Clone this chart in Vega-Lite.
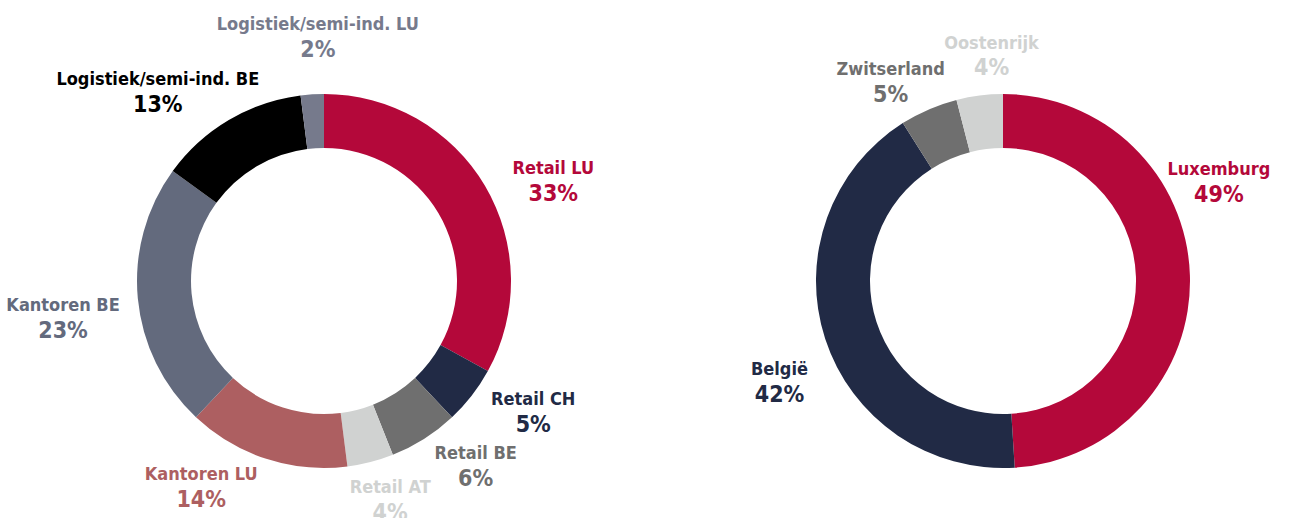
{
  "$schema": "https://vega.github.io/schema/vega-lite/v6.json",
  "padding": 0,
  "spacing": 63,
  "background": "white",
  "config": {
    "view": {"stroke": null},
    "text": {"font": "DejaVu Sans Condensed, DejaVu Sans, sans-serif", "fontWeight": "bold", "baseline": "middle", "align": "center"}
  },
  "data": {
    "values": [
      {"grafiek": "Sector", "nr": 1, "label": "Retail LU", "waarde": 0.33},
      {"grafiek": "Sector", "nr": 2, "label": "Retail CH", "waarde": 0.05},
      {"grafiek": "Sector", "nr": 3, "label": "Retail BE", "waarde": 0.06},
      {"grafiek": "Sector", "nr": 4, "label": "Retail AT", "waarde": 0.04},
      {"grafiek": "Sector", "nr": 5, "label": "Kantoren LU", "waarde": 0.14},
      {"grafiek": "Sector", "nr": 6, "label": "Kantoren BE", "waarde": 0.23},
      {"grafiek": "Sector", "nr": 7, "label": "Logistiek/semi-ind. BE", "waarde": 0.13},
      {"grafiek": "Sector", "nr": 8, "label": "Logistiek/semi-ind. LU", "waarde": 0.02},
      {"grafiek": "Land", "nr": 1, "label": "Luxemburg", "waarde": 0.49},
      {"grafiek": "Land", "nr": 2, "label": "België", "waarde": 0.42},
      {"grafiek": "Land", "nr": 3, "label": "Zwitserland", "waarde": 0.05},
      {"grafiek": "Land", "nr": 4, "label": "Oostenrijk", "waarde": 0.04}
    ]
  },
  "resolve": {"scale": {"color": "independent"}},
  "hconcat": [
    {
      "width": 648,
      "height": 562,
      "transform": [{"filter": "datum.grafiek === 'Sector'"}],
      "encoding": {
        "color": {
          "field": "label",
          "type": "nominal",
          "legend": null,
          "scale": {
            "domain": ["Retail LU", "Retail CH", "Retail BE", "Retail AT", "Kantoren LU", "Kantoren BE", "Logistiek/semi-ind. BE", "Logistiek/semi-ind. LU"],
            "range": ["#B4083A", "#212A45", "#6F6F6F", "#D0D2D1", "#AD5F61", "#636A7D", "#000000", "#767A8C"]
          }
        }
      },
      "layer": [
        {
          "mark": {"type": "arc", "radius": 187, "radius2": 133},
          "encoding": {
            "theta": {"field": "waarde", "type": "quantitative", "stack": true, "scale": {"domain": [0, 1]}},
            "order": {"field": "nr", "type": "quantitative"}
          }
        },
        {
          "transform": [
            {"stack": "waarde", "groupby": ["grafiek"], "sort": [{"field": "nr", "order": "ascending"}], "as": ["t0", "t1"]},
            {"fold": ["t0", "t1"], "as": ["rand", "t"]},
            {"aggregate": [{"op": "mean", "field": "t", "as": "mid"}], "groupby": ["label", "waarde", "nr"]}
          ],
          "encoding": {
            "theta": {"field": "mid", "type": "quantitative", "stack": null, "scale": {"domain": [0, 1]}}
          },
          "layer": [
            {"transform": [{"filter": "datum.label === 'Retail LU'"}], "mark": {"type": "text", "radius": 242, "dx": 21, "dy": 11, "fontSize": 18}, "encoding": {"text": {"field": "label", "type": "nominal"}}},
            {"transform": [{"filter": "datum.label === 'Retail LU'"}], "mark": {"type": "text", "radius": 242, "dx": 21, "dy": 36, "fontSize": 23}, "encoding": {"text": {"field": "waarde", "type": "quantitative", "format": ".0%"}}},
            {"transform": [{"filter": "datum.label === 'Retail CH'"}], "mark": {"type": "text", "radius": 242, "dx": 18, "dy": -29, "fontSize": 18}, "encoding": {"text": {"field": "label", "type": "nominal"}}},
            {"transform": [{"filter": "datum.label === 'Retail CH'"}], "mark": {"type": "text", "radius": 242, "dx": 18, "dy": -4, "fontSize": 23}, "encoding": {"text": {"field": "waarde", "type": "quantitative", "format": ".0%"}}},
            {"transform": [{"filter": "datum.label === 'Retail BE'"}], "mark": {"type": "text", "radius": 242, "dx": 22, "dy": -31, "fontSize": 18}, "encoding": {"text": {"field": "label", "type": "nominal"}}},
            {"transform": [{"filter": "datum.label === 'Retail BE'"}], "mark": {"type": "text", "radius": 242, "dx": 22, "dy": -6, "fontSize": 23}, "encoding": {"text": {"field": "waarde", "type": "quantitative", "format": ".0%"}}},
            {"transform": [{"filter": "datum.label === 'Retail AT'"}], "mark": {"type": "text", "radius": 242, "dx": 6, "dy": -27, "fontSize": 18}, "encoding": {"text": {"field": "label", "type": "nominal"}}},
            {"transform": [{"filter": "datum.label === 'Retail AT'"}], "mark": {"type": "text", "radius": 242, "dx": 6, "dy": -2, "fontSize": 23}, "encoding": {"text": {"field": "waarde", "type": "quantitative", "format": ".0%"}}},
            {"transform": [{"filter": "datum.label === 'Kantoren LU'"}], "mark": {"type": "text", "radius": 242, "dx": -48, "dy": -36, "fontSize": 18}, "encoding": {"text": {"field": "label", "type": "nominal"}}},
            {"transform": [{"filter": "datum.label === 'Kantoren LU'"}], "mark": {"type": "text", "radius": 242, "dx": -48, "dy": -11, "fontSize": 23}, "encoding": {"text": {"field": "waarde", "type": "quantitative", "format": ".0%"}}},
            {"transform": [{"filter": "datum.label === 'Kantoren BE'"}], "mark": {"type": "text", "radius": 242, "dx": -20, "dy": 2, "fontSize": 18}, "encoding": {"text": {"field": "label", "type": "nominal"}}},
            {"transform": [{"filter": "datum.label === 'Kantoren BE'"}], "mark": {"type": "text", "radius": 242, "dx": -20, "dy": 27, "fontSize": 23}, "encoding": {"text": {"field": "waarde", "type": "quantitative", "format": ".0%"}}},
            {"transform": [{"filter": "datum.label === 'Logistiek/semi-ind. BE'"}], "mark": {"type": "text", "radius": 242, "dx": -43, "dy": 7, "fontSize": 18}, "encoding": {"text": {"field": "label", "type": "nominal"}}},
            {"transform": [{"filter": "datum.label === 'Logistiek/semi-ind. BE'"}], "mark": {"type": "text", "radius": 242, "dx": -43, "dy": 32, "fontSize": 23}, "encoding": {"text": {"field": "waarde", "type": "quantitative", "format": ".0%"}}},
            {"transform": [{"filter": "datum.label === 'Logistiek/semi-ind. LU'"}], "mark": {"type": "text", "radius": 242, "dx": 9, "dy": -14, "fontSize": 18}, "encoding": {"text": {"field": "label", "type": "nominal"}}},
            {"transform": [{"filter": "datum.label === 'Logistiek/semi-ind. LU'"}], "mark": {"type": "text", "radius": 242, "dx": 9, "dy": 11, "fontSize": 23}, "encoding": {"text": {"field": "waarde", "type": "quantitative", "format": ".0%"}}}
          ]
        }
      ]
    },
    {
      "width": 584,
      "height": 562,
      "transform": [{"filter": "datum.grafiek === 'Land'"}],
      "encoding": {
        "color": {
          "field": "label",
          "type": "nominal",
          "legend": null,
          "scale": {
            "domain": ["Luxemburg", "België", "Zwitserland", "Oostenrijk"],
            "range": ["#B4083A", "#212A45", "#6F6F6F", "#D0D2D1"]
          }
        }
      },
      "layer": [
        {
          "mark": {"type": "arc", "radius": 187, "radius2": 133},
          "encoding": {
            "theta": {"field": "waarde", "type": "quantitative", "stack": true, "scale": {"domain": [0, 1]}},
            "order": {"field": "nr", "type": "quantitative"}
          }
        },
        {
          "transform": [
            {"stack": "waarde", "groupby": ["grafiek"], "sort": [{"field": "nr", "order": "ascending"}], "as": ["t0", "t1"]},
            {"fold": ["t0", "t1"], "as": ["rand", "t"]},
            {"aggregate": [{"op": "mean", "field": "t", "as": "mid"}], "groupby": ["label", "waarde", "nr"]}
          ],
          "encoding": {
            "theta": {"field": "mid", "type": "quantitative", "stack": null, "scale": {"domain": [0, 1]}}
          },
          "layer": [
            {"transform": [{"filter": "datum.label === 'Luxemburg'"}], "mark": {"type": "text", "radius": 235, "dx": -19, "dy": -104, "fontSize": 18}, "encoding": {"text": {"field": "label", "type": "nominal"}}},
            {"transform": [{"filter": "datum.label === 'Luxemburg'"}], "mark": {"type": "text", "radius": 235, "dx": -19, "dy": -79, "fontSize": 23}, "encoding": {"text": {"field": "waarde", "type": "quantitative", "format": ".0%"}}},
            {"transform": [{"filter": "datum.label === 'België'"}], "mark": {"type": "text", "radius": 235, "dx": 0, "dy": 16, "fontSize": 18}, "encoding": {"text": {"field": "label", "type": "nominal"}}},
            {"transform": [{"filter": "datum.label === 'België'"}], "mark": {"type": "text", "radius": 235, "dx": 0, "dy": 41, "fontSize": 23}, "encoding": {"text": {"field": "waarde", "type": "quantitative", "format": ".0%"}}},
            {"transform": [{"filter": "datum.label === 'Zwitserland'"}], "mark": {"type": "text", "radius": 235, "dx": -19, "dy": 5, "fontSize": 18}, "encoding": {"text": {"field": "label", "type": "nominal"}}},
            {"transform": [{"filter": "datum.label === 'Zwitserland'"}], "mark": {"type": "text", "radius": 235, "dx": -19, "dy": 30, "fontSize": 23}, "encoding": {"text": {"field": "waarde", "type": "quantitative", "format": ".0%"}}},
            {"transform": [{"filter": "datum.label === 'Oostenrijk'"}], "mark": {"type": "text", "radius": 235, "dx": 18, "dy": -4, "fontSize": 18}, "encoding": {"text": {"field": "label", "type": "nominal"}}},
            {"transform": [{"filter": "datum.label === 'Oostenrijk'"}], "mark": {"type": "text", "radius": 235, "dx": 18, "dy": 20, "fontSize": 23}, "encoding": {"text": {"field": "waarde", "type": "quantitative", "format": ".0%"}}}
          ]
        }
      ]
    }
  ]
}
